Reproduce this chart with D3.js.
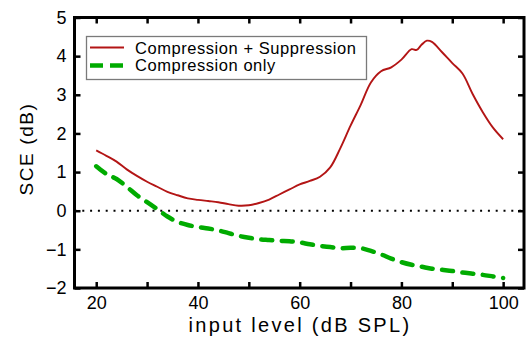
<!DOCTYPE html>
<html>
<head>
<meta charset="utf-8">
<script src="https://cdn.jsdelivr.net/npm/d3@7"></script>
<style>
  html, body { margin: 0; padding: 0; background: #fff; }
  svg { display: block; font-family: "Liberation Sans", Arial, sans-serif; }
</style>
</head>
<body>
<svg id="chart" width="530" height="337"></svg>
<script>
// Input level (dB SPL) and SCE (dB) for the two model variants
const levelsSupp = [20, 22, 24, 26, 28, 30, 32, 34, 36, 38, 40, 42, 44, 46, 48, 50, 52, 54, 56, 58, 60,
                    62, 64, 66, 68, 70, 72, 74, 76, 78, 80, 82, 83, 84, 85, 86, 88, 90, 92, 94, 96, 98, 100];
const sceSupp    = [1.56, 1.42, 1.27, 1.07, 0.90, 0.75, 0.62, 0.49, 0.40, 0.32, 0.28, 0.25, 0.22, 0.17, 0.13, 0.14, 0.20, 0.29, 0.42, 0.55, 0.68,
                    0.77, 0.88, 1.12, 1.62, 2.20, 2.74, 3.32, 3.61, 3.71, 3.91, 4.18, 4.16, 4.30, 4.40, 4.37, 4.10, 3.82, 3.55, 3.02, 2.55, 2.15, 1.85];

const levelsComp = [20, 22, 24, 26, 28, 30, 32, 34, 36, 38, 40, 42, 44, 46, 48, 50, 52, 54, 56, 58, 60,
                    62, 64, 66, 68, 70, 72, 74, 76, 78, 80, 82, 84, 86, 88, 90, 92, 94, 96, 98, 100];
const sceComp    = [1.15, 0.95, 0.82, 0.62, 0.40, 0.22, 0.04, -0.15, -0.29, -0.37, -0.42, -0.46, -0.51, -0.58, -0.65, -0.70, -0.74, -0.76, -0.78, -0.79, -0.82,
                    -0.87, -0.91, -0.94, -0.97, -0.96, -0.97, -1.04, -1.13, -1.24, -1.33, -1.40, -1.45, -1.50, -1.53, -1.56, -1.60, -1.63, -1.66, -1.70, -1.74];

const xTicks = [20, 30, 40, 50, 60, 70, 80, 90, 100];
const xTickLabels = [20, 40, 60, 80, 100];
const yTicks = [-2, -1, 0, 1, 2, 3, 4, 5];

const seriesNames = ["Compression + Suppression", "Compression only"];
const xTitle = "input level (dB SPL)";
const yTitle = "SCE (dB)";

const plot = { left: 74.5, right: 524, top: 17.5, bottom: 288 };
const red = "#b31515", green = "#00ab00";

const svg = d3.select("#chart");

const x = d3.scaleLinear().domain([15.73, 104.1]).range([plot.left, plot.right]);
const y = d3.scaleLinear().domain([-2, 5]).range([plot.bottom, plot.top]);

// zero reference (dotted)
svg.append("line")
  .attr("x1", plot.left).attr("x2", plot.right)
  .attr("y1", y(0)).attr("y2", y(0))
  .attr("stroke", "#000").attr("stroke-width", 2)
  .attr("stroke-dasharray", "2,5.8");

// curves
const line = d3.line().x(d => x(d[0])).y(d => y(d[1])).curve(d3.curveCatmullRom.alpha(0.5));

svg.append("path")
  .datum(d3.zip(levelsComp, sceComp))
  .attr("d", line)
  .attr("fill", "none").attr("stroke", green).attr("stroke-width", 4.5)
  .attr("stroke-linecap", "round")
  .attr("stroke-dasharray", "11,9.5");

svg.append("path")
  .datum(d3.zip(levelsSupp, sceSupp))
  .attr("d", line)
  .attr("fill", "none").attr("stroke", red).attr("stroke-width", 1.9)
  .attr("stroke-linejoin", "round");

// axes with inward ticks on all four sides
const tickLen = 6;
function styleAxis(g) {
  g.select(".domain").remove();
  g.selectAll(".tick line").attr("stroke", "#000").attr("stroke-width", 2.5);
  g.selectAll(".tick text").attr("fill", "#000").attr("font-size", 18)
    .attr("font-family", "'Liberation Sans', Arial, sans-serif");
}

svg.append("g")
  .attr("transform", `translate(0,${plot.bottom})`)
  .call(d3.axisBottom(x).tickValues(xTicks).tickSizeInner(-tickLen).tickSizeOuter(0).tickPadding(8.5)
        .tickFormat(d => xTickLabels.includes(d) ? d : ""))
  .call(styleAxis);

svg.append("g")
  .attr("transform", `translate(0,${plot.top})`)
  .call(d3.axisTop(x).tickValues(xTicks).tickSizeInner(-tickLen).tickSizeOuter(0).tickFormat(""))
  .call(styleAxis);

svg.append("g")
  .attr("transform", `translate(${plot.left},0)`)
  .call(d3.axisLeft(y).tickValues(yTicks).tickSizeInner(-tickLen).tickSizeOuter(0).tickPadding(8)
        .tickFormat(d => d < 0 ? "\u2212" + Math.abs(d) : String(d)))
  .call(styleAxis);

svg.append("g")
  .attr("transform", `translate(${plot.right},0)`)
  .call(d3.axisRight(y).tickValues(yTicks).tickSizeInner(-tickLen).tickSizeOuter(0).tickFormat(""))
  .call(styleAxis);

// frame
svg.append("rect")
  .attr("x", plot.left).attr("y", plot.top)
  .attr("width", plot.right - plot.left).attr("height", plot.bottom - plot.top)
  .attr("fill", "none").attr("stroke", "#000").attr("stroke-width", 3);

// axis titles
svg.append("text")
  .attr("x", 300).attr("y", 332)
  .attr("text-anchor", "middle")
  .attr("font-size", 20).attr("letter-spacing", "2.3px")
  .attr("fill", "#000")
  .text(xTitle);

svg.append("text")
  .attr("transform", `translate(33,149) rotate(-90)`)
  .attr("text-anchor", "middle")
  .attr("font-size", 19).attr("letter-spacing", "1.6px")
  .attr("fill", "#000")
  .text(yTitle);

// legend
const legend = svg.append("g");
legend.append("rect")
  .attr("x", 86.5).attr("y", 36.5).attr("width", 280).attr("height", 43)
  .attr("fill", "#fff").attr("stroke", "#7a7a7a").attr("stroke-width", 1.3);

const legendRows = [
  { name: seriesNames[0], color: red, width: 1.9, dash: null, cy: 47.5, base: 53.6 },
  { name: seriesNames[1], color: green, width: 4.5, dash: "13,7", cy: 65.5, base: 71.2 }
];
legendRows.forEach(r => {
  legend.append("line")
    .attr("x1", 90).attr("x2", 124).attr("y1", r.cy).attr("y2", r.cy)
    .attr("stroke", r.color).attr("stroke-width", r.width)
    .attr("stroke-dasharray", r.dash);
  legend.append("text")
    .attr("x", 135).attr("y", r.base)
    .attr("font-size", 16.5).attr("letter-spacing", "0.55px").attr("fill", "#000")
    .text(r.name);
});
</script>
</body>
</html>
